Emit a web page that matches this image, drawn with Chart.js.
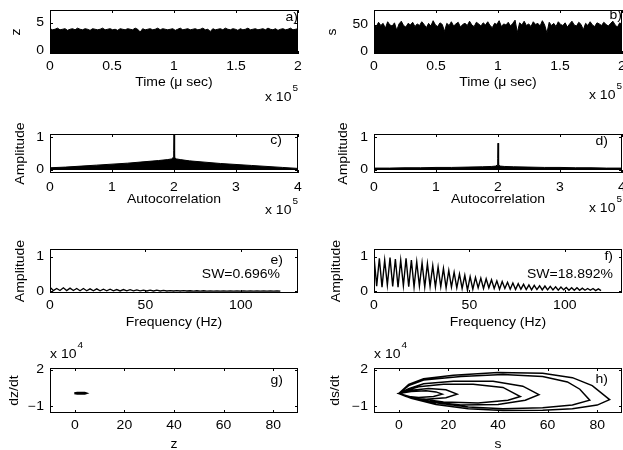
<!DOCTYPE html>
<html>
<head>
<meta charset="utf-8">
<script src="https://cdn.jsdelivr.net/npm/chart.js@4.4.1/dist/chart.umd.min.js"></script>
<style>
    html, body { margin: 0; padding: 0; background: #fff; }
    #wrap { position: relative; width: 623px; height: 450px; overflow: hidden; }
    #wrap canvas { position: absolute; left: 0; top: 0; }
</style>
</head>
<body>
<div id="wrap"></div>
<script>
(function () {
    'use strict';

    // ---- tick labels ----
    const timeTicks = [0, 0.5, 1, 1.5, 2];
    const lagTicks = [0, 1, 2, 3, 4];
    const freqTicks = [0, 50, 100];
    const phaseTicks = [0, 20, 40, 60, 80];
    const zTicks = [0, 5];
    const sTicks = [0, 50];
    const ampTicks = [0, 1];
    const derivTicks = [-1, 2];

    // ---- a) z(t), envelope of the signal (x 10^5 usec) ----
    const aZ = [4.0, 3.8, 3.9, 4.1, 3.8, 3.9, 4.0, 3.7, 3.9, 4.0, 3.8, 4.1, 3.9, 3.8, 4.0, 3.9, 3.7, 4.0, 3.9, 3.8,
        3.9, 4.1, 3.8, 3.9, 4.0, 3.8, 3.9, 3.7, 4.0, 3.9, 3.8, 4.0, 3.9, 3.8, 4.1, 3.9, 3.4, 4.0, 3.8, 3.9,
        4.0, 3.8, 3.9, 4.1, 3.8, 4.0, 3.9, 3.8, 3.9, 4.0, 3.7, 3.9, 4.1, 3.8, 3.9, 4.0, 3.8, 3.9, 4.0, 3.8,
        3.9, 4.1, 3.8, 3.9, 3.5, 4.0, 3.8, 3.9, 4.0, 3.8, 4.1, 3.9, 3.8, 4.0, 3.9, 3.7, 4.0, 3.8, 3.9, 4.1,
        3.8, 3.9, 4.0, 3.8, 3.9, 4.0, 3.8, 4.1, 3.9, 3.8, 4.0, 3.7, 3.9, 4.0, 3.8, 3.9, 4.1, 3.8, 3.9, 4.0];

    // ---- b) s(t) envelope ----
    const bS = [51, 47, 55, 49, 53, 44, 56, 50, 48, 54, 40, 52, 57, 49, 46, 53, 50, 55, 47, 52,
        49, 56, 51, 45, 53, 48, 58, 50, 47, 54, 51, 38, 53, 49, 56, 48, 52, 55, 46, 51,
        53, 49, 57, 50, 47, 55, 52, 48, 54, 50, 56, 49, 45, 53, 51, 58, 47, 52, 50, 55,
        48, 53, 59, 36, 54, 50, 57, 49, 52, 47, 56, 51, 53, 48, 58, 50, 35, 55, 49, 53,
        47, 56, 51, 49, 54, 46, 52, 57, 50, 48, 55, 51, 41, 53, 49, 56, 50, 47, 54, 52,
        49, 55, 51, 48, 53, 57, 50, 46, 54, 51];

    // ---- c), d) autocorrelation envelopes (x 10^5) ----
    const cLag = [0, 0.25, 0.5, 0.75, 1, 1.25, 1.5, 1.75, 1.9, 1.96, 1.985, 1.995, 2, 2.005, 2.015, 2.04, 2.1, 2.25, 2.5, 2.75, 3, 3.25, 3.5, 3.75, 4];
    const cAmp = [0.07, 0.09, 0.12, 0.15, 0.18, 0.21, 0.25, 0.29, 0.32, 0.34, 0.38, 0.6, 1.1, 0.6, 0.38, 0.34, 0.32, 0.28, 0.24, 0.2, 0.17, 0.14, 0.11, 0.08, 0.05];
    const dAmp = [0.06, 0.06, 0.07, 0.07, 0.08, 0.08, 0.09, 0.1, 0.11, 0.12, 0.15, 0.35, 0.82, 0.35, 0.15, 0.12, 0.11, 0.1, 0.09, 0.08, 0.08, 0.07, 0.07, 0.06, 0.06];

    // ---- e), f) spectra: peak / trough amplitudes ----
    const E_STEP = 3.5;
    const ePeak = [0.12, 0.08, 0.1, 0.09, 0.08, 0.08, 0.07, 0.07, 0.06, 0.06, 0.05, 0.05, 0.045, 0.04, 0.035, 0.03, 0.03, 0.025,
        0.02, 0.02, 0.02, 0.015, 0.015, 0.015, 0.012, 0.012, 0.012, 0.01, 0.01, 0.01, 0.01, 0.01, 0.01, 0.01, 0.01];
    const eTrough = [0.02, 0.02, 0.02, 0.02, 0.015, 0.015, 0.015, 0.015, 0.012, 0.012, 0.01, 0.01, 0.01, 0.01, 0.008, 0.008, 0.008, 0.008,
        0.008, 0.008, 0.008, 0.006, 0.006, 0.006, 0.006, 0.006, 0.006, 0.005, 0.005, 0.005, 0.005, 0.005, 0.005, 0.005, 0.005];

    const F_STEP = 2.8;
    const fPeak = [1.0, 0.95, 0.9, 0.97, 0.93, 0.9, 0.95, 0.9, 0.85, 0.82, 0.8, 0.74, 0.7, 0.66, 0.6, 0.55, 0.5, 0.46, 0.42, 0.4,
        0.38, 0.36, 0.33, 0.3, 0.28, 0.26, 0.24, 0.22, 0.2, 0.18, 0.17, 0.16, 0.15, 0.14, 0.13, 0.12, 0.11, 0.1, 0.1, 0.09,
        0.08, 0.08, 0.07];
    const fTrough = [0.15, 0.12, 0.18, 0.14, 0.12, 0.16, 0.13, 0.12, 0.15, 0.12, 0.14, 0.12, 0.13, 0.1, 0.12, 0.1, 0.08, 0.03, 0.06, 0.1,
        0.08, 0.1, 0.08, 0.06, 0.08, 0.06, 0.05, 0.06, 0.05, 0.04, 0.05, 0.04, 0.04, 0.04, 0.03, 0.04, 0.03, 0.03, 0.03, 0.03,
        0.03, 0.02, 0.02];

    // ---- g), h) phase portraits (derivative x 10^4) ----
    const gZ = [-0.2, 1, 2.5, 4, 4.6, 4, 2.5, 1, -0.2];
    const gDz = [0.07, 0.11, 0.12, 0.11, 0.07, 0.03, 0.02, 0.03, 0.07];

    const hS = [0, 5, 11, 15, 17.5, 14, 8, 3, 0,
        5, 12, 19, 23.5, 19, 11, 4, 0,
        3, 8, 18, 30, 42, 49, 44, 32, 18, 7, 0,
        4, 10, 22, 38, 50, 56.5, 51, 40, 25, 12, 3, 0,
        4, 10, 25, 42, 58, 68, 73, 77, 70, 58, 42, 28, 14, 4, 0,
        4, 10, 22, 40, 58, 70, 78, 85, 80, 70, 58, 42, 28, 15, 5, 0];
    const hDs = [0.05, 0.22, 0.28, 0.18, 0, -0.2, -0.28, -0.18, 0.05,
        0.32, 0.45, 0.35, 0, -0.3, -0.42, -0.25, 0.05,
        0.3, 0.6, 0.8, 0.8, 0.55, -0.2, -0.5, -0.72, -0.65, -0.35, 0.05,
        0.45, 0.85, 1.05, 1.05, 0.65, -0.05, -0.5, -0.85, -0.9, -0.6, -0.2, 0.05,
        0.7, 1.15, 1.45, 1.6, 1.45, 1.0, 0.4, -0.5, -0.9, -1.12, -1.2, -1.05, -0.7, -0.25, 0.05,
        0.8, 1.25, 1.55, 1.78, 1.7, 1.35, 0.7, -0.45, -0.9, -1.2, -1.32, -1.35, -1.2, -0.85, -0.35, 0.05];

    const W = 623, H = 450;
    const FONT = '"Liberation Sans", Arial, Helvetica, sans-serif';
    const SQ = 0.85;   // glyphs in the reference are flatter than Arial
    const TICK = 3;

    const xy = (xs, ys) => xs.map((x, i) => ({ x: x, y: ys[i] }));
    const spread = (ys, span) => ys.map((_, i) => i * span / (ys.length - 1));
    function zigzag(peaks, troughs, step) {
        const pts = [];
        peaks.forEach((v, k) => {
            pts.push({ x: k * step, y: v });
            pts.push({ x: k * step + step / 2, y: troughs[k] });
        });
        return pts;
    }
    const fmt = v => (v < 0 ? '\u2212' + Math.abs(v) : String(v));

    function txt(ctx, s, x, y, align, size) {
        ctx.save();
        ctx.translate(x, y);
        ctx.scale(1, SQ);
        ctx.font = size + 'px ' + FONT;
        ctx.textAlign = align;
        ctx.textBaseline = 'middle';
        ctx.fillText(s, 0, 0);
        ctx.restore();
    }
    function vtxt(ctx, s, x, y, size) {
        ctx.save();
        ctx.translate(x, y);
        ctx.rotate(-Math.PI / 2);
        ctx.scale(1, SQ);
        ctx.font = size + 'px ' + FONT;
        ctx.textAlign = 'center';
        ctx.textBaseline = 'middle';
        ctx.fillText(s, 0, 0);
        ctx.restore();
    }

    // box, inward ticks and all the text, matlab style
    const matlabAxes = {
        id: 'matlabAxes',
        afterDatasetsDraw(chart, args, o) {
            const ctx = chart.ctx, a = chart.chartArea;
            const sx = chart.scales.x, sy = chart.scales.y;
            ctx.save();
            ctx.fillStyle = '#000';
            ctx.strokeStyle = '#000';
            ctx.lineWidth = 1;
            ctx.strokeRect(a.left + 0.5, a.top + 0.5, a.right - a.left - 1, a.bottom - a.top - 1);

            ctx.beginPath();
            o.xTicks.forEach(v => {
                const px = Math.round(sx.getPixelForValue(v)) + 0.5;
                ctx.moveTo(px, a.bottom); ctx.lineTo(px, a.bottom - TICK);
                ctx.moveTo(px, a.top); ctx.lineTo(px, a.top + TICK);
            });
            o.yTicks.forEach(v => {
                const py = Math.round(sy.getPixelForValue(v)) + 0.5;
                ctx.moveTo(a.left, py); ctx.lineTo(a.left + TICK, py);
                ctx.moveTo(a.right, py); ctx.lineTo(a.right - TICK, py);
            });
            ctx.stroke();

            o.xTicks.forEach(v => txt(ctx, fmt(v), sx.getPixelForValue(v), a.bottom + o.xTickOff, 'center', 14));
            o.yTicks.forEach(v => txt(ctx, fmt(v), a.left - 6, sy.getPixelForValue(v), 'right', 14));

            txt(ctx, o.xTitle, (a.left + a.right) / 2, a.bottom + o.xTitleOff, 'center', 14);
            vtxt(ctx, o.yTitle, a.left - o.yTitleOff, (a.top + a.bottom) / 2, 14);
            txt(ctx, o.tag, a.right - o.tagDx, a.top + o.tagDy, 'right', 14);
            if (o.note) txt(ctx, o.note, a.right - o.noteDx, a.top + o.noteDy, 'right', 14);

            if (o.exp) {
                ctx.font = '14px ' + FONT;
                const w1 = ctx.measureText('x 10').width;
                ctx.font = '10px ' + FONT;
                const w2 = ctx.measureText(o.exp).width;
                let x0, y0;
                if (o.expAt === 'bottom') {
                    x0 = a.right - w1 - w2 - 1;
                    y0 = a.bottom + o.expDy;
                } else {
                    x0 = a.left;
                    y0 = a.top + o.expDy;
                }
                txt(ctx, 'x 10', x0, y0, 'left', 14);
                txt(ctx, o.exp, x0 + w1 + 1, y0 - 9, 'left', 10);
            }
            ctx.restore();
        }
    };
    Chart.register(matlabAxes);

    const line = (data, extra) => Object.assign({
        data: data,
        borderColor: '#000',
        backgroundColor: '#000',
        borderWidth: 1,
        pointRadius: 0,
        tension: 0,
        fill: false
    }, extra || {});

    const rowTime = { xTickOff: 13, xTitleOff: 28.5, expAt: 'bottom', expDy: 44, exp: '5' };
    const rowLag = { xTickOff: 15, xTitleOff: 26.7, expAt: 'bottom', expDy: 38, exp: '5' };
    const rowFreq = { xTickOff: 12.7, xTitleOff: 30 };
    const rowPhase = { xTickOff: 12.7, xTitleOff: 31.4, expAt: 'top', expDy: -13, exp: '4' };

    const panels = [
        {
            rect: [50, 10, 298, 54], x: [0, 2], y: [-0.6, 7.4],
            datasets: [line(xy(spread(aZ, 2), aZ), { fill: 'start' })],
            axes: Object.assign({ xTicks: timeTicks, yTicks: zTicks, xTitle: 'Time (\u03bc sec)', yTitle: 'z', yTitleOff: 33.7, tag: 'a)', tagDx: 0, tagDy: 8 }, rowTime)
        },
        {
            rect: [374, 10, 622, 54], x: [0, 2], y: [-4.3, 78],
            datasets: [line(xy(spread(bS, 2), bS), { fill: 'start' })],
            axes: Object.assign({ xTicks: timeTicks, yTicks: sTicks, xTitle: 'Time (\u03bc sec)', yTitle: 's', yTitleOff: 41, tag: 'b)', tagDx: 0, tagDy: 6 }, rowTime, { expDy: 42 })
        },
        {
            rect: [50, 134, 298, 173], x: [0, 4], y: [-0.09, 1.1],
            datasets: [line(xy(cLag, cAmp), { fill: 'origin' })],
            axes: Object.assign({ xTicks: lagTicks, yTicks: ampTicks, xTitle: 'Autocorrelation', yTitle: 'Amplitude', yTitleOff: 29.4, tag: 'c)', tagDx: 16, tagDy: 7 }, rowLag)
        },
        {
            rect: [374, 134, 622, 173], x: [0, 4], y: [-0.09, 1.1],
            datasets: [line(xy(cLag, dAmp), { fill: 'origin' })],
            axes: Object.assign({ xTicks: lagTicks, yTicks: ampTicks, xTitle: 'Autocorrelation', yTitle: 'Amplitude', yTitleOff: 30, tag: 'd)', tagDx: 14, tagDy: 8 }, rowLag, { expDy: 36 })
        },
        {
            rect: [50, 249, 298, 293], x: [0, 130], y: [-0.05, 1.22],
            datasets: [line(zigzag(ePeak, eTrough, E_STEP), { borderWidth: 1.3 })],
            axes: Object.assign({ xTicks: freqTicks, yTicks: ampTicks, xTitle: 'Frequency (Hz)', yTitle: 'Amplitude', yTitleOff: 29, tag: 'e)', tagDx: 15, tagDy: 12, note: 'SW=0.696%', noteDx: 18, noteDy: 26 }, rowFreq)
        },
        {
            rect: [374, 249, 622, 293], x: [0, 130], y: [-0.05, 1.22],
            datasets: [line(zigzag(fPeak, fTrough, F_STEP), { borderWidth: 1.4 })],
            axes: Object.assign({ xTicks: freqTicks, yTicks: ampTicks, xTitle: 'Frequency (Hz)', yTitle: 'Amplitude', yTitleOff: 37.5, tag: 'f)', tagDx: 9, tagDy: 8, note: 'SW=18.892%', noteDx: 9, noteDy: 26 }, rowFreq)
        },
        {
            rect: [50, 368, 298, 413], x: [-10, 90], y: [-1.55, 2.14],
            datasets: [line(xy(gZ, gDz), { borderWidth: 2 })],
            axes: Object.assign({ xTicks: phaseTicks, yTicks: derivTicks, xTitle: 'z', yTitle: 'dz/dt', yTitleOff: 35.5, tag: 'g)', tagDx: 15, tagDy: 13 }, rowPhase)
        },
        {
            rect: [374, 368, 622, 413], x: [-10, 90], y: [-1.55, 2.14],
            datasets: [line(xy(hS, hDs), { borderWidth: 1.5 })],
            axes: Object.assign({ xTicks: phaseTicks, yTicks: derivTicks, xTitle: 's', yTitle: 'ds/dt', yTitleOff: 38.5, tag: 'h)', tagDx: 14, tagDy: 12 }, rowPhase)
        }
    ];

    const wrap = document.getElementById('wrap');
    panels.forEach(p => {
        const cv = document.createElement('canvas');
        cv.width = W;
        cv.height = H;
        wrap.appendChild(cv);
        new Chart(cv, {
            type: 'line',
            data: { datasets: p.datasets },
            options: {
                responsive: false,
                animation: false,
                events: [],
                layout: { padding: { left: p.rect[0], top: p.rect[1], right: W - p.rect[2], bottom: H - p.rect[3] } },
                scales: {
                    x: { type: 'linear', display: false, min: p.x[0], max: p.x[1] },
                    y: { type: 'linear', display: false, min: p.y[0], max: p.y[1] }
                },
                plugins: {
                    legend: { display: false },
                    tooltip: { enabled: false },
                    matlabAxes: p.axes
                }
            }
        });
    });
})();
</script>
</body>
</html>
